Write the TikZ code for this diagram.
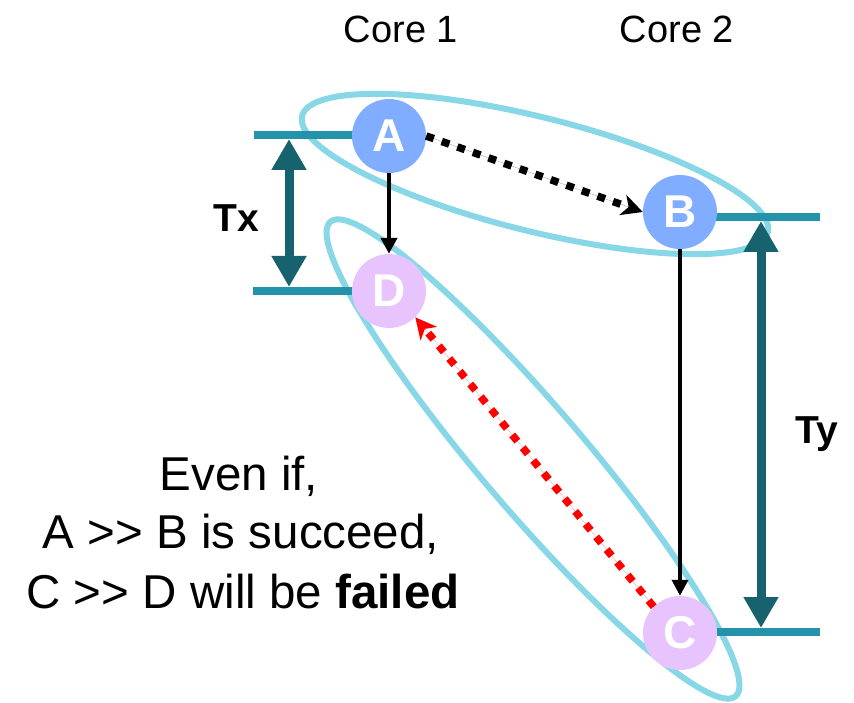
\documentclass[tikz,border=0pt]{standalone}
\usepackage{fontspec}
\setmainfont{Liberation Sans}
\usetikzlibrary{arrows.meta}
\definecolor{cblue}{HTML}{80ADFF}
\definecolor{cpurple}{HTML}{E8C4FF}
\definecolor{ering}{HTML}{88D7E6}
\definecolor{tealline}{HTML}{2393AA}
\definecolor{darkteal}{HTML}{17626F}
\tikzset{
  ring/.style={draw=ering, line width=6pt},
  hline/.style={draw=tealline, line width=8pt},
  dimarrow/.style={draw=darkteal, line width=9pt, {Triangle[width=33pt,length=31pt]}-{Triangle[width=33pt,length=31pt]}},
  opnode/.style={circle, minimum size=74pt, inner sep=0pt, text=white, font=\fontsize{46}{46}\selectfont\bfseries},
  bluenode/.style={opnode, fill=cblue},
  purplenode/.style={opnode, fill=cpurple},
  solidarrow/.style={draw=black, -{Triangle[width=16pt,length=16pt]}},
  dotarrow/.style={line width=7.5pt, dash pattern=on 8pt off 8.5pt, -{Stealth[length=21pt,width=21pt,inset=6pt]}},
  lbl/.style={font=\fontsize{38}{38}\selectfont, anchor=base},
  dimlbl/.style={font=\fontsize{39}{39}\selectfont\bfseries, anchor=base},
  body/.style={font=\fontsize{47.5}{47.5}\selectfont, anchor=base}
}
\begin{document}
\begin{tikzpicture}[x=1pt, y=-1pt]
\useasboundingbox (0,0) rectangle (854,703);
% centers
\coordinate (cA) at (389,136);
\coordinate (cB) at (680,212);
\coordinate (cD) at (389,291);
\coordinate (cC) at (680,633);
% ellipses
\coordinate (E1) at (535,174);
\coordinate (E2) at (533,459);
\draw[ring, rotate around={-14:(E1)}] (E1) ellipse [x radius=240pt, y radius=57pt];
\draw[ring, rotate around={-49.5:(E2)}] (E2) ellipse [x radius=312pt, y radius=52pt];
% level lines
\coordinate (lA) at (254,135);
\coordinate (lD) at (253,291);
\coordinate (rB) at (820,217);
\coordinate (rC) at (820,632);
\draw[hline] (lA) -- (cA |- lA);
\draw[hline] (lD) -- (cD |- lD);
\draw[hline] (cB |- rB) -- (rB);
\draw[hline] (cC |- rC) -- (rC);
% dimension arrows
\coordinate (tx1) at (289,139);
\coordinate (tx2) at (289,287);
\coordinate (ty1) at (761,221);
\coordinate (ty2) at (761,628);
\draw[dimarrow] (tx1) -- (tx2);
\draw[dimarrow] (ty1) -- (ty2);
% nodes
\node[bluenode] (A) at (cA) {A};
\node[bluenode] (B) at (cB) {B};
\node[purplenode] (D) at (cD) {D};
\node[purplenode] (C) at (cC) {C};
% arrows
\draw[solidarrow, line width=4.5pt] (A.south) -- (D.north);
\draw[solidarrow, line width=3.5pt] (B.south) -- (C.north);
\draw[dotarrow, draw=black, fill=black] (A.east) -- (B.west);
\draw[dotarrow, draw=red, fill=red] (C.north west) -- (D.south east);
% labels
\node[lbl] (core1) at (401,43) {Core 1};
\node[lbl] (core2) at (677,43) {Core 2};
\node[dimlbl] (tx) at (236,232) {Tx};
\node[dimlbl] (ty) at (817,443) {Ty};
\node[body] (t1) at (239,490) {Even if,};
\node[body] (t2) at (241,548) {A >{}> B is succeed,};
\node[body] (t3) at (243,608) {C >{}> D will be \textbf{failed}};
\end{tikzpicture}
\end{document}
